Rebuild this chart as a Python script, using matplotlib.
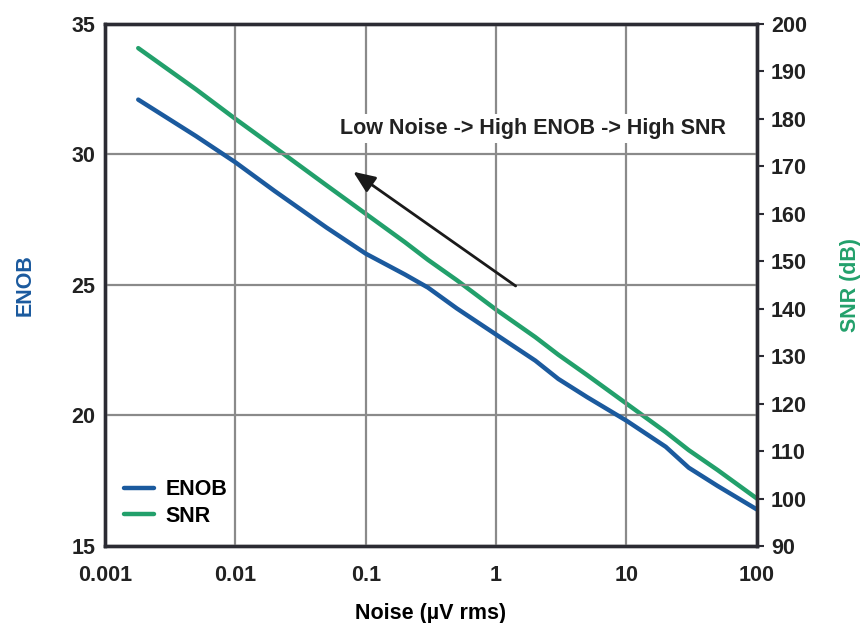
import numpy as np
import matplotlib
matplotlib.use('Agg')
import matplotlib.pyplot as plt

plt.rcParams['font.family'] = ['Liberation Sans', 'DejaVu Sans']
plt.rcParams['font.weight'] = 'bold'

# values
noise = [0.0018, 0.005, 0.01, 0.02, 0.05, 0.1, 0.2, 0.3, 0.5,
         1, 2, 3, 5, 10, 20, 30, 50, 100]
enob = [32.1, 30.7, 29.7, 28.6, 27.2, 26.2, 25.4, 24.9, 24.1,
        23.1, 22.1, 21.4, 20.7, 19.8, 18.8, 18.0, 17.3, 16.4]
snr = [194.9, 186.2, 180.0, 174.0, 166.0, 160.0, 154.0, 150.3, 146.0,
       139.8, 134.0, 130.3, 126.0, 120.0, 114.0, 110.2, 106.0, 100.0]

xticks = [0.001, 0.01, 0.1, 1, 10, 100]
xticklabels = ['0.001', '0.01', '0.1', '1', '10', '100']

blue = '#1b5a9e'
green = '#22a06b'
dark = '#2b2b33'
fs = 15.5

fig = plt.figure(figsize=(8.66, 6.23), dpi=100)
ax = fig.add_axes([0.1212, 0.1236, 0.7528, 0.838])
ax2 = ax.twinx()

l1, = ax.plot(noise, enob, color=blue, lw=3.2, label='ENOB', solid_capstyle='round')
l2, = ax2.plot(noise, snr, color=green, lw=3.2, label='SNR', solid_capstyle='round')

ax.set_xscale('log')
ax.set_xlim(0.001, 100)
ax.set_ylim(15, 35)
ax2.set_ylim(90, 200)
ax.set_xticks(xticks)
ax.set_xticklabels(xticklabels)
ax.minorticks_off()
ax.set_yticks([15, 20, 25, 30, 35])
ax2.set_yticks(range(90, 201, 10))

ax.grid(True, color='#8a8a8a', lw=1.6)
ax.set_axisbelow(True)
for a in (ax, ax2):
    for s in a.spines.values():
        s.set_color(dark)
        s.set_linewidth(2.4)
ax.tick_params(axis='y', length=0, labelsize=fs, colors='#222222', pad=7)
ax.tick_params(axis='x', length=0, labelsize=fs, colors='#222222', pad=14)
ax2.tick_params(axis='y', length=5, width=1.5, color=dark, labelsize=fs,
                labelcolor='#222222', pad=5)

ax.set_ylabel('ENOB', color=blue, fontsize=fs, fontweight='bold', labelpad=26)
ax2.set_ylabel('SNR (dB)', color=green, fontsize=fs, fontweight='bold', labelpad=24)
ax.set_xlabel('Noise (µV rms)', fontsize=fs, fontweight='bold', labelpad=12)

ax.text(1.9, 31.0, 'Low Noise -> High ENOB -> High SNR', ha='center', va='center',
        fontsize=fs, fontweight='bold', color='#222222',
        bbox=dict(facecolor='white', edgecolor='none', pad=3), zorder=5)
ax.annotate('', xy=(0.077, 29.4), xytext=(1.47, 24.9),
            arrowprops=dict(arrowstyle='-|>,head_length=0.6,head_width=0.25',
                            color='#1a1a1a', lw=2, mutation_scale=22), zorder=6)

leg = ax.legend([l1, l2], ['ENOB', 'SNR'], loc='lower left', frameon=False,
                fontsize=fs, handlelength=1.4, handletextpad=0.5,
                labelspacing=0.25, borderaxespad=0.5)
leg.set_zorder(10)
ax.set_zorder(ax2.get_zorder() + 1)
ax.patch.set_visible(False)

plt.savefig('out.png', dpi=100)
